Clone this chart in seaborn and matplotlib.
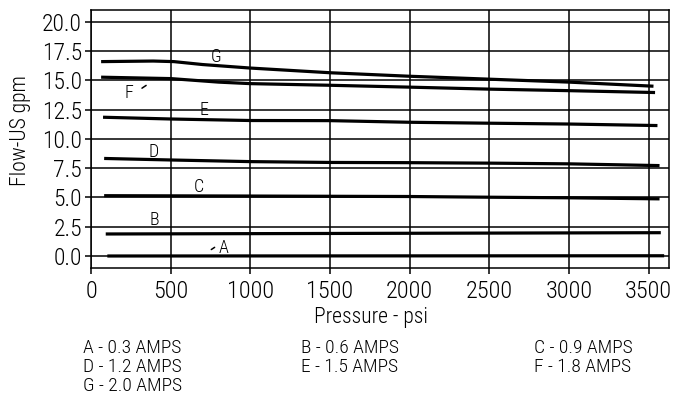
import numpy as np
import pandas as pd
import seaborn as sns
import matplotlib.pyplot as plt

# curve data (pressure psi, flow gpm)
G_x = [63, 390, 520, 700, 1000, 1500, 2000, 2500, 3000, 3530]
G_y = [16.6, 16.65, 16.6, 16.35, 16.05, 15.65, 15.35, 15.1, 14.85, 14.5]
F_x = [63, 500, 800, 1000, 1500, 2000, 2500, 3000, 3540]
F_y = [15.27, 15.15, 14.85, 14.72, 14.58, 14.42, 14.25, 14.12, 13.96]
E_x = [75, 500, 1000, 1500, 2000, 2500, 3000, 3555]
E_y = [11.85, 11.7, 11.57, 11.56, 11.42, 11.34, 11.27, 11.14]
D_x = [82, 500, 1000, 1500, 2000, 2500, 3000, 3568]
D_y = [8.33, 8.2, 8.06, 7.99, 7.97, 7.93, 7.87, 7.72]
C_x = [82, 1000, 2000, 2500, 3000, 3568]
C_y = [5.15, 5.12, 5.08, 5.02, 4.97, 4.88]
B_x = [92, 3576]
B_y = [1.88, 1.99]
A_x = [102, 3597]
A_y = [0.0, 0.02]

curves = {"A": (A_x, A_y), "B": (B_x, B_y), "C": (C_x, C_y), "D": (D_x, D_y),
          "E": (E_x, E_y), "F": (F_x, F_y), "G": (G_x, G_y)}

legend_text = ["A - 0.3 AMPS", "B - 0.6 AMPS", "C - 0.9 AMPS",
               "D - 1.2 AMPS", "E - 1.5 AMPS", "F - 1.8 AMPS",
               "G - 2.0 AMPS"]

x_ticks = [0, 500, 1000, 1500, 2000, 2500, 3000, 3500]
y_ticks = [0.0, 2.5, 5.0, 7.5, 10.0, 12.5, 15.0, 17.5, 20.0]

sns.set_style("ticks")
plt.rcParams["font.family"] = ["Roboto Condensed", "DejaVu Sans"]
plt.rcParams["font.weight"] = "light"
plt.rcParams["axes.labelweight"] = "light"
plt.rcParams["text.color"] = "black"

fig = plt.figure(figsize=(6.9, 3.96), dpi=100)
ax = fig.add_axes([0.132, 0.3225, 0.837, 0.652])

for name, (xs, ys) in curves.items():
    df = pd.DataFrame({"p": xs, "q": ys})
    sns.lineplot(data=df, x="p", y="q", ax=ax, color="black", lw=2.3,
                 solid_capstyle="butt", zorder=3)

# curve letters
lab = dict(fontsize=13, ha="center", va="center")
ax.text(785, 17.0, "G", **lab)
ax.text(240, 13.9, "F", **lab)
ax.annotate("", xy=(360, 14.7), xytext=(305, 14.2),
            arrowprops=dict(arrowstyle="-", lw=1.1, color="black"))
ax.text(709, 12.45, "E", **lab)
ax.text(395, 8.9, "D", **lab)
ax.text(674, 5.9, "C", **lab)
ax.text(397, 3.1, "B", **lab)
ax.text(832, 0.72, "A", **lab)
ax.annotate("", xy=(790, 0.87), xytext=(740, 0.42),
            arrowprops=dict(arrowstyle="-", lw=1.1, color="black"))

ax.set_xlim(0, 3625)
ax.set_ylim(-1.05, 21.0)
ax.set_xticks(x_ticks)
ax.set_yticks(y_ticks)
ax.set_yticklabels([f"{v:.1f}" for v in y_ticks])
ax.grid(True, color="black", lw=1.1)
for s in ax.spines.values():
    s.set_color("black")
    s.set_linewidth(1.1)
ax.tick_params(direction="out", length=4.5, width=1.1, colors="black")
ax.tick_params(axis="x", labelsize=17.5, pad=4)
ax.tick_params(axis="y", labelsize=17, pad=2)
ax.set_xlabel("Pressure - psi", fontsize=15.5, color="black", fontweight="light")
ax.set_ylabel("Flow-US gpm", fontsize=15.5, color="black", fontweight="light")
ax.xaxis.set_label_coords(0.484, -0.148)
ax.yaxis.set_label_coords(-0.104, 0.535)

# bottom key
cols = [83 / 690, 301 / 690, 534 / 690]
rows = [1 - 348 / 396, 1 - 367 / 396, 1 - 386 / 396]
for i, t in enumerate(legend_text):
    fig.text(cols[i % 3], rows[i // 3], t, fontsize=14, va="center", ha="left")

fig.savefig("out.png", dpi=100)
